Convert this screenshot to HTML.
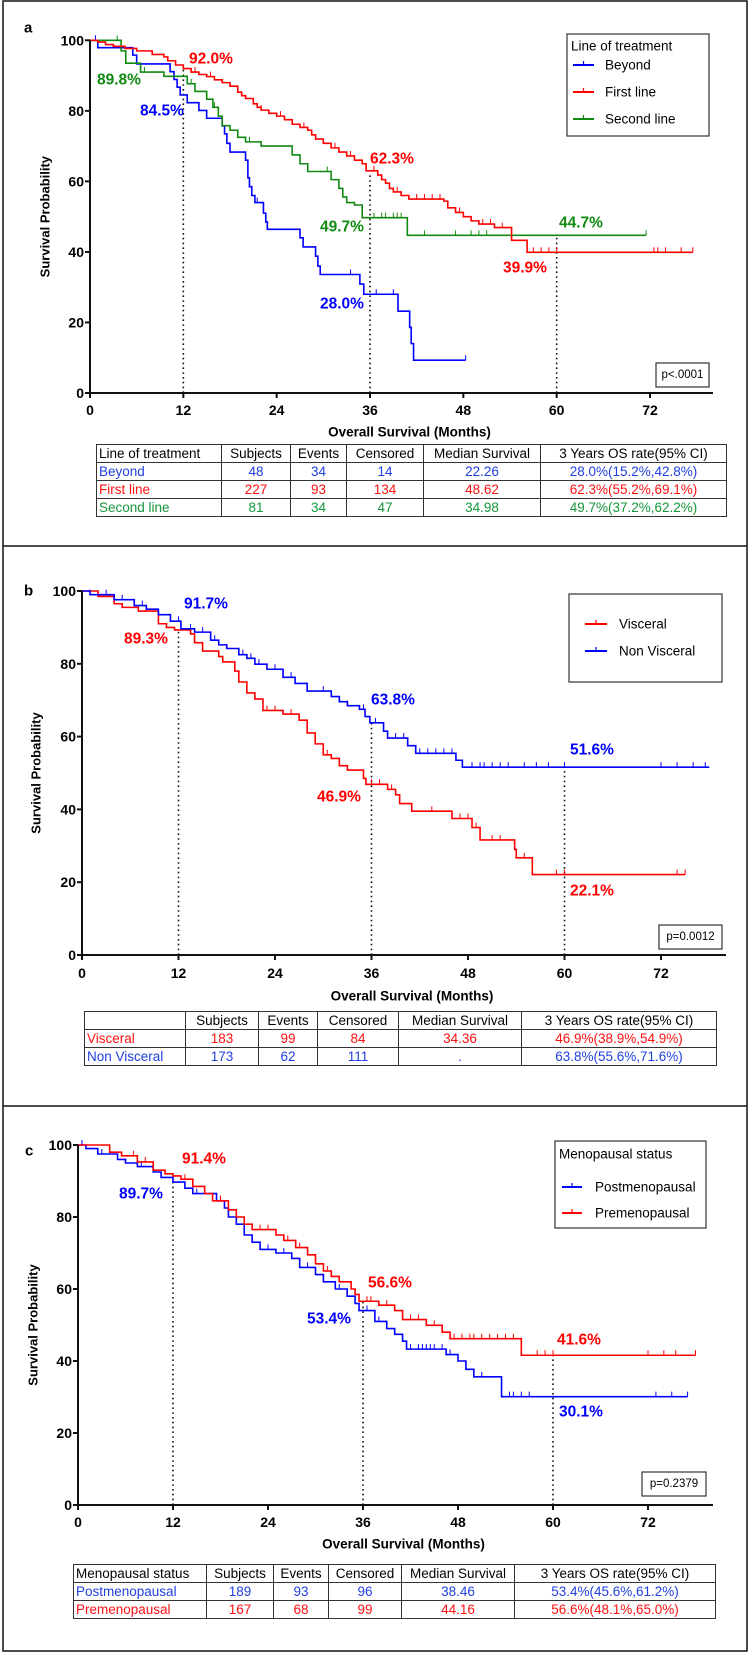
<!DOCTYPE html>
<html><head><meta charset="utf-8">
<style>
html,body{margin:0;padding:0;background:#fff;}
#wrap{position:relative;width:751px;height:1655px;overflow:hidden;background:#fff;font-family:"Liberation Sans",sans-serif;}
svg{position:absolute;left:0;top:0;}
table.t{position:absolute;border-collapse:collapse;font-family:"Liberation Sans",sans-serif;font-size:13.5px;table-layout:fixed;}
table.t td{border:1.5px solid #333;padding:0 2px;height:17px;line-height:16px;white-space:nowrap;overflow:hidden;text-align:center;}
table.t td.l{text-align:left;}
.bl{color:#2040e0}.rd{color:#ff1010}.gn{color:#16963a}
</style></head>
<body>
<div id="wrap">
<svg id="svg" width="751" height="1655" viewBox="0 0 751 1655">
  <rect x="3" y="1" width="744" height="1650" fill="none" stroke="#111" stroke-width="1.5"/>
  <line x1="3" y1="546" x2="747" y2="546" stroke="#111" stroke-width="1.5"/>
  <line x1="3" y1="1106" x2="747" y2="1106" stroke="#111" stroke-width="1.5"/>
</svg>

<table class="t" style="left:96px;top:444px;width:630px;">
<colgroup><col style="width:125px"><col style="width:69px"><col style="width:56px"><col style="width:77px"><col style="width:117px"><col style="width:186px"></colgroup>
<tr><td class="l">Line of treatment</td><td>Subjects</td><td>Events</td><td>Censored</td><td>Median Survival</td><td>3 Years OS rate(95% CI)</td></tr>
<tr class="bl"><td class="l">Beyond</td><td>48</td><td>34</td><td>14</td><td>22.26</td><td>28.0%(15.2%,42.8%)</td></tr>
<tr class="rd"><td class="l">First line</td><td>227</td><td>93</td><td>134</td><td>48.62</td><td>62.3%(55.2%,69.1%)</td></tr>
<tr class="gn"><td class="l">Second line</td><td>81</td><td>34</td><td>47</td><td>34.98</td><td>49.7%(37.2%,62.2%)</td></tr>
</table>

<table class="t" style="left:84px;top:1011px;width:632px;">
<colgroup><col style="width:101px"><col style="width:73px"><col style="width:59px"><col style="width:81px"><col style="width:123px"><col style="width:195px"></colgroup>
<tr><td class="l"></td><td>Subjects</td><td>Events</td><td>Censored</td><td>Median Survival</td><td>3 Years OS rate(95% CI)</td></tr>
<tr class="rd"><td class="l">Visceral</td><td>183</td><td>99</td><td>84</td><td>34.36</td><td>46.9%(38.9%,54.9%)</td></tr>
<tr class="bl"><td class="l">Non Visceral</td><td>173</td><td>62</td><td>111</td><td>.</td><td>63.8%(55.6%,71.6%)</td></tr>
</table>

<table class="t" style="left:73px;top:1564px;width:642px;">
<colgroup><col style="width:133px"><col style="width:67px"><col style="width:55px"><col style="width:73px"><col style="width:113px"><col style="width:201px"></colgroup>
<tr><td class="l">Menopausal status</td><td>Subjects</td><td>Events</td><td>Censored</td><td>Median Survival</td><td>3 Years OS rate(95% CI)</td></tr>
<tr class="bl"><td class="l">Postmenopausal</td><td>189</td><td>93</td><td>96</td><td>38.46</td><td>53.4%(45.6%,61.2%)</td></tr>
<tr class="rd"><td class="l">Premenopausal</td><td>167</td><td>68</td><td>99</td><td>44.16</td><td>56.6%(48.1%,65.0%)</td></tr>
</table>
</div>

<script>
// ---- Panel a data ----
const xTicks = [0, 12, 24, 36, 48, 60, 72];
const yTicks = [0, 20, 40, 60, 80, 100];
const aBeyondT = [1,5.5,6,10.3,10.8,11.2,11.6,12.5,14,15,17,17.3,17.6,18,20,20.3,20.5,20.8,21.2,22.3,22.6,22.8,27,27.4,29,29.3,29.6,34.7,35.2,39.6,41.1,41.3,41.6];
const aBeyondS = [97.9,95.8,93.3,91.1,88.9,86.7,84.5,82.3,80.1,77.9,75.7,73.5,70.8,68.3,66,61,58.5,56,54,51,48.5,46.4,44,41.4,38.8,36,33.6,30.9,28,23.2,18.6,14,9.3];
const aBeyondC = [0.7,21.5,33.5,36.8,39,48.3];
const aFirstT = [1,2,3,4.5,6,8,9.5,10,11,12,13,14,15,16,17,18,19,19.5,20,21,21.5,22,23,24,25,26,27,28,28.5,29,30,31,32,33,34,35,35.5,37,37.5,38,38.5,39,40,41,45.5,46,47,48,49,50,52,54.2,56.2];
const aFirstS = [99.5,98.8,98.3,97.7,97,96,95.3,94.2,93,92,91,90.3,89.7,88.8,88,87,85.3,84.3,83.5,82,81,80.2,79.3,78.5,77.5,76.2,75.3,74.5,73.2,72,70.8,69.5,68.3,67.2,66,65,63,61.8,60.5,59.5,58,57,56,55,54.4,52.5,51.2,50,48.8,47.9,46.9,43.3,39.9];
const aFirstC = [13.5,15.5,22,24.5,27.5,31.5,33.5,36.5,39.5,42,43,44,45,47.5,50.5,51.5,53,57,58,59,60,72.5,73,74,76,77.5];
const aSecondT = [4,4.6,6.5,9.5,12.5,13.5,15,15.8,16.5,17,18,19,20,22,26,27,28,31,32,32.5,33,34,35,40.8];
const aSecondS = [97,93.5,91,89.8,87.7,85.5,83.3,81,78.5,75.8,74.5,72.5,71.2,70,67.5,65,62.8,60.5,58,55.6,54,53.3,49.7,44.7];
const aSecondC = [3.5,7,13,16,20.5,22,30.5,36.5,37.5,38,39,39.5,40,43,47,49,50,51,71.5];
const aEnds = [48.3, 77.5, 71.5];
const aMarks = [92.0, 62.3, 44.7];

// ---- Panel b data ----
const bVisT = [2,4,5,7,9.5,10.5,11.5,13.5,14,15,17,17.5,19,19.5,20.5,21.5,22.5,25,27,28,29,30,31,32,33,35,35.3,38,39,39.5,41,46,48.5,49.5,53.8,54,56];
const bVisS = [98.5,96.5,95.5,94.5,91,90,89.3,88.2,85.8,83.5,82,80.5,78,75,72,70.3,67.2,66.2,64.5,61,58,55,54,52,50.8,48.5,46.9,45.5,44,41.6,39.5,37.5,35,31.6,29,26.7,22.1];
const bVisC = [2,8,23,24,26,27,30.5,36,37,38.5,43.5,47,48,49,51,52,55,59,60,74,75];
const bNonT = [1,4,6.5,8,9.5,11,12.3,14,16,17,18,19.5,20.5,21.5,23,25,26.5,28,31,32,33,34.5,35.2,35.8,37.5,38,40.5,41.5,46.5,47.3];
const bNonS = [99,97.6,96,95,93.5,91.7,89.6,88.7,86.5,85.2,84.2,82.5,81.5,79.9,78.5,76.3,74.6,72.5,71,69.6,68.5,67.5,65.5,63.8,61.5,59.6,57.5,55.4,53.5,51.6];
const bNonC = [1,3,5,7.5,12,13.5,15,16.5,20,21,22,24,26,28,30,33,35,36.5,39,40,42,43,44,45,46,48.5,49.5,50,51,52,53,55,56.5,58,60,72,74,76,77.5];
const bEnds = [75, 78];
const bMarks = [89.3, 63.8, 51.6];

// ---- Panel c data ----
const cPostT = [1,2.5,5,6,7.5,9.5,10.5,12,13.5,14.5,17.5,18.5,19,20,21,22,23,25,27,28,30,31,32.5,34,35,35.5,37.5,39,40,41,41.5,46.5,48,49,50,53.5];
const cPostS = [99,97.5,96,95,94,92.5,91,89.7,88,86.5,84.5,82.5,80,78,75,73,71,70,68.5,66,64,62,60,58,56,54,51,49,47.4,45.5,43.3,41.8,40,37.7,35.6,30.1];
const cPostC = [0.5,3,8,15,18,24,26,29,33,36.5,38,42,43,43.5,44,44.5,45,46,47,51,54.5,55,56,57,73,75,77];
const cPreT = [4,5.5,7.5,9.5,11,12,13,14.5,16,17,19,20,21,22,25,26,27.5,29,30,31,32,33,34.5,35,35.5,38,40,41,44,46,47,56];
const cPreS = [98,97,95.3,93,92,91.4,90.5,88.5,86.5,84.5,82,80,78,76.5,75,73.5,71.5,69.5,67,65,63.5,62,60,58.5,56.6,55.5,54,51.5,49.9,48,46.2,41.6];
const cPreC = [7,8.5,13.5,18,23,24,26.5,28,31.5,36.5,37,39,42,43,45,47.5,48.5,49.5,50,51,52,53,54,55,58,59,60,72,74,75.5,78];
const cEnds = [77, 78];
const cMarks = [89.7, 56.6, 41.6];
const markTimes = [12, 36, 60];

const NS = 'http://www.w3.org/2000/svg';
const svg = document.getElementById('svg');
const BLUE = '#0000ff', RED = '#ff0000', GREEN = '#108a10';

function mk(tag, attrs, name, parent) {
  const el = document.createElementNS(NS, tag);
  for (const k in attrs) el.setAttribute(k, attrs[k]);
  
  
  (parent || svg).appendChild(el);
  return el;
}
function txt(x, y, s, attrs, name, parent) {
  const a = Object.assign({x: x, y: y, 'font-family': '"Liberation Sans", sans-serif', 'dominant-baseline': 'central'}, attrs);
  const el = mk('text', a, name, parent);
  el.textContent = s;
  return el;
}
function survAt(T, S, t) {
  let v = 100;
  for (let i = 0; i < T.length; i++) if (T[i] <= t) v = S[i];
  return v;
}

function panel(P) {
  const g = mk('g', {}, P.name);
  const X = t => P.x0 + t * (P.x72 - P.x0) / 72;
  const Y = s => P.y0 - s * (P.y0 - P.y100) / 100;
  // dotted lines
  markTimes.forEach((t, i) => {
    mk('line', {x1: X(t), y1: Y(0), x2: X(t), y2: Y(P.marks[i]), stroke: '#111', 'stroke-width': 1.6, 'stroke-dasharray': '1.6 3.2'}, 'reference-line-' + t, g);
  });
  // series
  P.series.forEach(sr => {
    let d = 'M' + X(0) + ',' + Y(100);
    sr.T.forEach((t, i) => { d += 'H' + X(t) + 'V' + Y(sr.S[i]); });
    d += 'H' + X(sr.end);
    mk('path', {d: d, fill: 'none', stroke: sr.color, 'stroke-width': 1.6}, 'curve-' + sr.key, g);
    sr.C.forEach(t => {
      const s = survAt(sr.T, sr.S, t);
      mk('line', {x1: X(t), y1: Y(s), x2: X(t), y2: Y(s) - 5, stroke: sr.color, 'stroke-width': 1}, 'censor-' + sr.key, g);
    });
  });
  // axes
  mk('line', {x1: P.x0, y1: Y(0), x2: P.x0, y2: Y(100), stroke: '#111', 'stroke-width': 2}, 'y-axis', g);
  mk('line', {x1: P.x0, y1: Y(0), x2: P.xEnd, y2: Y(0), stroke: '#111', 'stroke-width': 2}, 'x-axis', g);
  yTicks.forEach(v => {
    mk('line', {x1: P.x0 - 5, y1: Y(v), x2: P.x0, y2: Y(v), stroke: '#111', 'stroke-width': 2}, 'y-tick', g);
    txt(P.x0 - 6, Y(v), String(v), {'text-anchor': 'end', 'font-size': 14, 'font-weight': 'bold'}, 'y-tick-label', g);
  });
  xTicks.forEach(v => {
    mk('line', {x1: X(v), y1: Y(0), x2: X(v), y2: Y(0) + 5, stroke: '#111', 'stroke-width': 2}, 'x-tick', g);
    txt(X(v), P.tickY, String(v), {'text-anchor': 'middle', 'font-size': 14, 'font-weight': 'bold'}, 'x-tick-label', g);
  });
  txt((P.x0 + P.xEnd) / 2 + 8, P.titleY, 'Overall Survival (Months)', {'text-anchor': 'middle', 'font-size': 13.5, 'font-weight': 'bold'}, 'x-axis-title', g);
  const yc = (Y(0) + Y(100)) / 2;
  txt(0, 0, 'Survival Probability', {'text-anchor': 'middle', 'font-size': 13, 'font-weight': 'bold', transform: 'translate(' + P.ytX + ',' + yc + ') rotate(-90)'}, 'y-axis-title', g);
  txt(P.lab[0], P.lab[1], P.label, {'font-size': 15, 'font-weight': 'bold'}, 'panel-label', g);
  // percent labels
  P.pct.forEach(p => {
    txt(p[0], p[1], p[2], {'font-size': 15.5, 'font-weight': 'bold', fill: p[3]}, 'rate-label', g);
  });
  // p box
  const pb = P.pbox;
  mk('rect', {x: pb[0], y: pb[1], width: pb[2], height: pb[3], fill: '#fff', stroke: '#333', 'stroke-width': 1.2}, 'p-value-box', g);
  txt(pb[0] + pb[2] / 2, pb[1] + pb[3] / 2, pb[4], {'text-anchor': 'middle', 'font-size': 11.5}, 'p-value', g);
  // legend
  const L = P.legend;
  const lg = mk('g', {}, 'legend', g);
  mk('rect', {x: L.box[0], y: L.box[1], width: L.box[2], height: L.box[3], fill: '#fff', stroke: '#333', 'stroke-width': 1.2}, 'legend-box', lg);
  if (L.title) txt(L.title[0], L.title[1], L.title[2], {'font-size': 13.5}, 'legend-title', lg);
  L.items.forEach(it => {
    const e = mk('g', {}, 'legend-entry', lg);
    mk('line', {x1: L.lx1, y1: it[1], x2: L.lx2, y2: it[1], stroke: it[2], 'stroke-width': 2}, 'legend-swatch', e);
    mk('line', {x1: (L.lx1 + L.lx2) / 2, y1: it[1], x2: (L.lx1 + L.lx2) / 2, y2: it[1] - 4, stroke: it[2], 'stroke-width': 1.2}, 'legend-censor-mark', e);
    txt(L.tx, it[1], it[0], {'font-size': 13.5}, 'legend-label', e);
  });
}

panel({
  name: 'panel-a', label: 'a', lab: [24, 28],
  x0: 90, x72: 650, xEnd: 713, y0: 393, y100: 40.3, tickY: 410, titleY: 432, ytX: 45,
  marks: aMarks,
  series: [
    {key: 'beyond', T: aBeyondT, S: aBeyondS, C: aBeyondC, end: aEnds[0], color: BLUE},
    {key: 'second-line', T: aSecondT, S: aSecondS, C: aSecondC, end: aEnds[2], color: GREEN},
    {key: 'first-line', T: aFirstT, S: aFirstS, C: aFirstC, end: aEnds[1], color: RED}
  ],
  pct: [[189, 59, '92.0%', RED], [97, 80, '89.8%', GREEN], [140, 111, '84.5%', BLUE], [370, 159, '62.3%', RED],
        [320, 227, '49.7%', GREEN], [559, 223, '44.7%', GREEN], [503, 268, '39.9%', RED], [320, 304, '28.0%', BLUE]],
  pbox: [656, 363, 53, 24, 'p<.0001'],
  legend: {box: [567, 34, 142, 102], title: [571, 46, 'Line of treatment'], lx1: 573, lx2: 594, tx: 605,
    items: [['Beyond', 65, BLUE], ['First line', 92, RED], ['Second line', 119, GREEN]]}
});

panel({
  name: 'panel-b', label: 'b', lab: [24, 591],
  x0: 82, x72: 661, xEnd: 726, y0: 955, y100: 591, tickY: 973, titleY: 996, ytX: 36,
  marks: bMarks,
  series: [
    {key: 'visceral', T: bVisT, S: bVisS, C: bVisC, end: bEnds[0], color: RED},
    {key: 'non-visceral', T: bNonT, S: bNonS, C: bNonC, end: bEnds[1], color: BLUE}
  ],
  pct: [[184, 604, '91.7%', BLUE], [124, 639, '89.3%', RED], [371, 700, '63.8%', BLUE], [570, 750, '51.6%', BLUE],
        [317, 797, '46.9%', RED], [570, 891, '22.1%', RED]],
  pbox: [659, 925, 63, 24, 'p=0.0012'],
  legend: {box: [569, 594, 153, 88], title: null, lx1: 585, lx2: 607, tx: 619,
    items: [['Visceral', 624, RED], ['Non Visceral', 651, BLUE]]}
});

panel({
  name: 'panel-c', label: 'c', lab: [25, 1151],
  x0: 78, x72: 648, xEnd: 713, y0: 1505, y100: 1145, tickY: 1522, titleY: 1544, ytX: 33,
  marks: cMarks,
  series: [
    {key: 'postmenopausal', T: cPostT, S: cPostS, C: cPostC, end: cEnds[0], color: BLUE},
    {key: 'premenopausal', T: cPreT, S: cPreS, C: cPreC, end: cEnds[1], color: RED}
  ],
  pct: [[182, 1159, '91.4%', RED], [119, 1194, '89.7%', BLUE], [368, 1283, '56.6%', RED], [307, 1319, '53.4%', BLUE],
        [557, 1340, '41.6%', RED], [559, 1412, '30.1%', BLUE]],
  pbox: [642, 1472, 64, 24, 'p=0.2379'],
  legend: {box: [555, 1141, 151, 87], title: [559, 1154, 'Menopausal status'], lx1: 562, lx2: 582, tx: 595,
    items: [['Postmenopausal', 1187, BLUE], ['Premenopausal', 1213, RED]]}
});
</script>
</body></html>
